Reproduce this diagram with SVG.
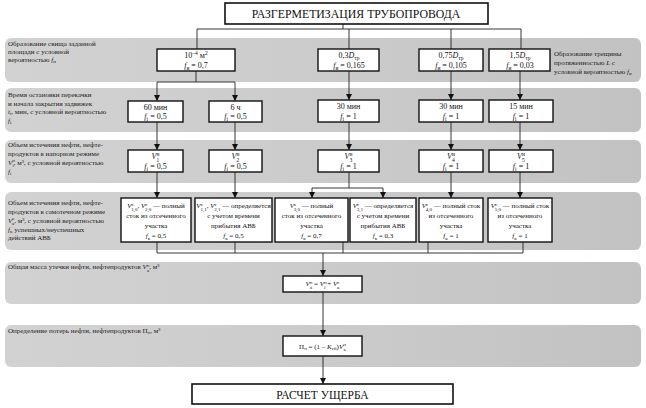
<svg xmlns="http://www.w3.org/2000/svg" width="646" height="408" viewBox="0 0 646 408">
<defs>
<marker id="arr" viewBox="0 0 6 6" refX="6" refY="3" markerWidth="6" markerHeight="6" orient="auto" markerUnits="userSpaceOnUse">
<path d="M0,0 L6,3 L0,6 z" fill="#111"/>
</marker>
<linearGradient id="bandg" x1="0" y1="0" x2="1" y2="0">
<stop offset="0" stop-color="#d2d2d2"/>
<stop offset="0.5" stop-color="#cbcbcb"/>
<stop offset="1" stop-color="#c2c2c2"/>
</linearGradient>
</defs>
<style>
.band{fill:url(#bandg);}
.box{fill:#fff;stroke:#111;stroke-width:1.4;}
.big{fill:#fff;stroke:#111;stroke-width:1.6;}
.t{font-family:"Liberation Serif",serif;font-size:8px;fill:#111;text-anchor:middle;}
.t7{font-family:"Liberation Serif",serif;font-size:7px;fill:#111;text-anchor:middle;}
.lbl{font-family:"Liberation Serif",serif;font-size:7px;fill:#222;}
.ttl{font-family:"Liberation Serif",serif;font-size:11.8px;fill:#111;text-anchor:middle;}
.ttl2{font-family:"Liberation Serif",serif;font-size:11.5px;fill:#111;text-anchor:middle;}
.i{font-style:italic;}
.s{font-size:5.5px;}
.s5{font-size:5px;}
.c{fill:none;stroke:#222;stroke-width:0.9;}
.a{fill:none;stroke:#222;stroke-width:0.9;marker-end:url(#arr);}
</style>
<rect width="646" height="408" fill="#fff"/>

<g id="bands">
<rect class="band" x="5" y="38" width="636" height="44" rx="6"/>
<rect class="band" x="5" y="88" width="636" height="44" rx="6"/>
<rect class="band" x="5" y="140" width="636" height="43" rx="6"/>
<rect class="band" x="5" y="192" width="636" height="58" rx="6"/>
<rect class="band" x="5" y="262" width="636" height="42" rx="6"/>
<rect class="band" x="5" y="325" width="636" height="42" rx="6"/>
</g>

<g id="labels">
<text class="lbl" x="8" y="46">Образование свища заданной</text>
<text class="lbl" x="8" y="54">площади с условной</text>
<text class="lbl" x="8" y="62">вероятностью <tspan class="i">f</tspan><tspan class="s5" dy="1">и</tspan></text>
<text class="lbl" x="554" y="56">Образование трещины</text>
<text class="lbl" x="554" y="65">протяженностью <tspan class="i">L</tspan> с</text>
<text class="lbl" x="554" y="74">условной вероятностью <tspan class="i">f</tspan><tspan class="s5" dy="1">и</tspan></text>

<text class="lbl" x="8" y="97">Время остановки перекачки</text>
<text class="lbl" x="8" y="105.5">и начала закрытия задвижек</text>
<text class="lbl" x="8" y="114"><tspan class="i">t</tspan><tspan class="s5" dy="1">i</tspan><tspan dy="-1">, мин, с условной вероятностью</tspan></text>
<text class="lbl" x="8" y="122.5"><tspan class="i">f</tspan><tspan class="s5" dy="1">i</tspan></text>

<text class="lbl" x="8" y="147">Объем истечения нефти, нефте-</text>
<text class="lbl" x="8" y="155.5">продуктов в напорном режиме</text>
<text class="lbl" x="8" y="164.5"><tspan class="i">V</tspan><tspan class="s5" dy="-2.5">н</tspan><tspan class="s5" dx="-2.5" dy="5">i</tspan><tspan dy="-2.5">, м³, с условной вероятностью</tspan></text>
<text class="lbl" x="8" y="173.5"><tspan class="i">f</tspan><tspan class="s5" dy="1">i</tspan></text>

<text class="lbl" x="8" y="205">Объем истечения нефти, нефте-</text>
<text class="lbl" x="8" y="213.5">продуктов в самотечном режиме</text>
<text class="lbl" x="8" y="222.5"><tspan class="i">V</tspan><tspan class="s5" dy="-2.5">с</tspan><tspan class="s5" dx="-2.5" dy="5">а</tspan><tspan dy="-2.5">, м³, с условной вероятностью</tspan></text>
<text class="lbl" x="8" y="231.5"><tspan class="i">f</tspan><tspan class="s5" dy="1">к</tspan><tspan dy="-1"> успешных/неуспешных</tspan></text>
<text class="lbl" x="8" y="239.5">действий АВБ</text>

<text class="lbl" x="8" y="269">Общая масса утечки нефти, нефтепродуктов <tspan class="i">V</tspan><tspan class="s5" dy="-2.5">н</tspan><tspan class="s5" dx="-2.5" dy="5">а</tspan><tspan dy="-2.5">, м³</tspan></text>
<text class="lbl" x="8" y="333">Определение потерь нефти, нефтепродуктов П<tspan class="s5" dy="1">н</tspan><tspan dy="-1">, м³</tspan></text>
</g>

<g id="connectors">
<path class="c" d="M343 24 V29 M197 29 H521 M197 29 V49 M349 29 V49 M451 29 V49 M521 29 V49"/>
<path class="c" d="M196 71 V82 M157 82 H235"/>
<path class="a" d="M157 82 V101"/>
<path class="a" d="M235 82 V101"/>
<path class="a" d="M349 71 V100"/>
<path class="a" d="M451 71 V100"/>
<path class="a" d="M520 71 V100"/>
<path class="a" d="M157 122 V150"/>
<path class="a" d="M235 122 V150"/>
<path class="a" d="M349 122 V150"/>
<path class="a" d="M451 122 V150"/>
<path class="a" d="M520 122 V150"/>
<path class="a" d="M157 172 V198"/>
<path class="a" d="M235 172 V198"/>
<path class="c" d="M349 172 V188 M312 188 H383"/>
<path class="a" d="M312 188 V198"/>
<path class="a" d="M383 188 V198"/>
<path class="a" d="M451 172 V198"/>
<path class="a" d="M520 172 V198"/>
<path class="c" d="M157 242 V253 M235 242 V253 M343 242 V253 M428 242 V253 M523 242 V253 M157 253 H523"/>
<path class="a" d="M323 253 V276"/>
<path class="a" d="M323 292 V336"/>
<path class="a" d="M323 356 V384"/>
</g>

<g id="title">
<rect class="big" x="225" y="3" width="263" height="21"/>
<text class="ttl" x="356" y="18">РАЗГЕРМЕТИЗАЦИЯ ТРУБОПРОВОДА</text>
</g>

<g id="r1b1">
<rect class="box" x="157" y="49" width="78" height="22"/>
<text class="t" x="196" y="58">10<tspan class="s" dy="-3">–4</tspan><tspan dy="3"> м</tspan><tspan class="s" dy="-3">2</tspan></text>
<text class="t" x="196" y="68"><tspan class="i">f</tspan><tspan class="s" dy="1.5">и</tspan><tspan dy="-1.5"> = 0,7</tspan></text>
</g>
<g id="r1b2">
<rect class="box" x="318" y="49" width="61" height="22"/>
<text class="t" x="349" y="58">0,3<tspan class="i">D</tspan><tspan class="s" dy="1.5">тр</tspan></text>
<text class="t" x="349" y="68"><tspan class="i">f</tspan><tspan class="s" dy="1.5">и</tspan><tspan dy="-1.5"> = 0,165</tspan></text>
</g>
<g id="r1b3">
<rect class="box" x="419" y="49" width="64" height="22"/>
<text class="t" x="451" y="58">0,75<tspan class="i">D</tspan><tspan class="s" dy="1.5">тр</tspan></text>
<text class="t" x="451" y="68"><tspan class="i">f</tspan><tspan class="s" dy="1.5">и</tspan><tspan dy="-1.5"> = 0,105</tspan></text>
</g>
<g id="r1b4">
<rect class="box" x="489" y="49" width="61" height="22"/>
<text class="t" x="520" y="58">1,5<tspan class="i">D</tspan><tspan class="s" dy="1.5">тр</tspan></text>
<text class="t" x="520" y="68"><tspan class="i">f</tspan><tspan class="s" dy="1.5">и</tspan><tspan dy="-1.5"> = 0,03</tspan></text>
</g>

<g id="r2b1">
<rect class="box" x="128" y="101" width="55" height="21"/>
<text class="t" x="155.5" y="109.5">60 мин</text>
<text class="t" x="155.5" y="119"><tspan class="i">f</tspan><tspan class="s" dy="1.5">i</tspan><tspan dy="-1.5"> = 0,5</tspan></text>
</g>
<g id="r2b2">
<rect class="box" x="209" y="101" width="53" height="21"/>
<text class="t" x="235.5" y="109.5">6 ч</text>
<text class="t" x="235.5" y="119"><tspan class="i">f</tspan><tspan class="s" dy="1.5">i</tspan><tspan dy="-1.5"> = 0,5</tspan></text>
</g>
<g id="r2b3">
<rect class="box" x="318" y="100" width="61" height="22"/>
<text class="t" x="348.5" y="109">30 мин</text>
<text class="t" x="348.5" y="119"><tspan class="i">f</tspan><tspan class="s" dy="1.5">i</tspan><tspan dy="-1.5"> = 1</tspan></text>
</g>
<g id="r2b4">
<rect class="box" x="419" y="100" width="64" height="22"/>
<text class="t" x="451" y="109">30 мин</text>
<text class="t" x="451" y="119"><tspan class="i">f</tspan><tspan class="s" dy="1.5">i</tspan><tspan dy="-1.5"> = 1</tspan></text>
</g>
<g id="r2b5">
<rect class="box" x="489" y="100" width="64" height="22"/>
<text class="t" x="521" y="109">15 мин</text>
<text class="t" x="521" y="119"><tspan class="i">f</tspan><tspan class="s" dy="1.5">i</tspan><tspan dy="-1.5"> = 1</tspan></text>
</g>

<g id="r3b1">
<rect class="box" x="128" y="150" width="55" height="22"/>
<text class="t" x="155.5" y="159"><tspan class="i">V</tspan><tspan class="s" dy="-3">н</tspan><tspan class="s" dx="-3" dy="5.5">1</tspan></text>
<text class="t" x="155.5" y="169"><tspan class="i">f</tspan><tspan class="s" dy="1.5">i</tspan><tspan dy="-1.5"> = 0,5</tspan></text>
</g>
<g id="r3b2">
<rect class="box" x="209" y="150" width="53" height="22"/>
<text class="t" x="235.5" y="159"><tspan class="i">V</tspan><tspan class="s" dy="-3">н</tspan><tspan class="s" dx="-3" dy="5.5">2</tspan></text>
<text class="t" x="235.5" y="169"><tspan class="i">f</tspan><tspan class="s" dy="1.5">i</tspan><tspan dy="-1.5"> = 0,5</tspan></text>
</g>
<g id="r3b3">
<rect class="box" x="318" y="150" width="61" height="22"/>
<text class="t" x="348.5" y="159"><tspan class="i">V</tspan><tspan class="s" dy="-3">н</tspan><tspan class="s" dx="-3" dy="5.5">3</tspan></text>
<text class="t" x="348.5" y="169"><tspan class="i">f</tspan><tspan class="s" dy="1.5">i</tspan><tspan dy="-1.5"> = 1</tspan></text>
</g>
<g id="r3b4">
<rect class="box" x="419" y="150" width="64" height="22"/>
<text class="t" x="451" y="159"><tspan class="i">V</tspan><tspan class="s" dy="-3">н</tspan><tspan class="s" dx="-3" dy="5.5">4</tspan></text>
<text class="t" x="451" y="169"><tspan class="i">f</tspan><tspan class="s" dy="1.5">i</tspan><tspan dy="-1.5"> = 1</tspan></text>
</g>
<g id="r3b5">
<rect class="box" x="489" y="150" width="64" height="22"/>
<text class="t" x="521" y="159"><tspan class="i">V</tspan><tspan class="s" dy="-3">н</tspan><tspan class="s" dx="-3" dy="5.5">5</tspan></text>
<text class="t" x="521" y="169"><tspan class="i">f</tspan><tspan class="s" dy="1.5">i</tspan><tspan dy="-1.5"> = 1</tspan></text>
</g>

<g id="r4b1">
<rect class="box" x="121" y="198" width="70" height="44"/>
<text class="t7" x="156" y="208"><tspan class="i">V</tspan><tspan class="s5" dy="-2.5">с</tspan><tspan class="s5" dx="-2.5" dy="5">1,0</tspan><tspan dy="-2.5">, </tspan><tspan class="i">V</tspan><tspan class="s5" dy="-2.5">с</tspan><tspan class="s5" dx="-2.5" dy="5">2,0</tspan><tspan dy="-2.5"> — полный</tspan></text>
<text class="t7" x="156" y="218">сток из отсеченного</text>
<text class="t7" x="156" y="228">участка</text>
<text class="t7" x="156" y="238"><tspan class="i">f</tspan><tspan class="s5" dy="1.5">к</tspan><tspan dy="-1.5"> = 0,5</tspan></text>
</g>
<g id="r4b2">
<rect class="box" x="195" y="198" width="77" height="44"/>
<text class="t7" x="233.5" y="208"><tspan class="i">V</tspan><tspan class="s5" dy="-2.5">с</tspan><tspan class="s5" dx="-2.5" dy="5">1,1</tspan><tspan dy="-2.5">, </tspan><tspan class="i">V</tspan><tspan class="s5" dy="-2.5">с</tspan><tspan class="s5" dx="-2.5" dy="5">2,1</tspan><tspan dy="-2.5"> — определяется</tspan></text>
<text class="t7" x="233.5" y="218">с учетом времени</text>
<text class="t7" x="233.5" y="228">прибытия АВБ</text>
<text class="t7" x="233.5" y="238"><tspan class="i">f</tspan><tspan class="s5" dy="1.5">к</tspan><tspan dy="-1.5"> = 0,5</tspan></text>
</g>
<g id="r4b3">
<rect class="box" x="275" y="198" width="73" height="44"/>
<text class="t7" x="311.5" y="208"><tspan class="i">V</tspan><tspan class="s5" dy="-2.5">с</tspan><tspan class="s5" dx="-2.5" dy="5">3,0</tspan><tspan dy="-2.5"> — полный</tspan></text>
<text class="t7" x="311.5" y="218">сток из отсеченного</text>
<text class="t7" x="311.5" y="228">участка</text>
<text class="t7" x="311.5" y="238"><tspan class="i">f</tspan><tspan class="s5" dy="1.5">к</tspan><tspan dy="-1.5"> = 0,7</tspan></text>
</g>
<g id="r4b4">
<rect class="box" x="350" y="198" width="66" height="44"/>
<text class="t7" x="383" y="208"><tspan class="i">V</tspan><tspan class="s5" dy="-2.5">с</tspan><tspan class="s5" dx="-2.5" dy="5">3,1</tspan><tspan dy="-2.5"> — определяется</tspan></text>
<text class="t7" x="383" y="218">с учетом времени</text>
<text class="t7" x="383" y="228">прибытия АВБ</text>
<text class="t7" x="383" y="238"><tspan class="i">f</tspan><tspan class="s5" dy="1.5">к</tspan><tspan dy="-1.5"> = 0,3</tspan></text>
</g>
<g id="r4b5">
<rect class="box" x="419" y="198" width="64" height="44"/>
<text class="t7" x="451" y="208"><tspan class="i">V</tspan><tspan class="s5" dy="-2.5">с</tspan><tspan class="s5" dx="-2.5" dy="5">4,0</tspan><tspan dy="-2.5"> — полный сток</tspan></text>
<text class="t7" x="451" y="218">из отсеченного</text>
<text class="t7" x="451" y="228">участка</text>
<text class="t7" x="451" y="238"><tspan class="i">f</tspan><tspan class="s5" dy="1.5">к</tspan><tspan dy="-1.5"> = 1</tspan></text>
</g>
<g id="r4b6">
<rect class="box" x="488" y="198" width="64" height="44"/>
<text class="t7" x="520" y="208"><tspan class="i">V</tspan><tspan class="s5" dy="-2.5">с</tspan><tspan class="s5" dx="-2.5" dy="5">5,0</tspan><tspan dy="-2.5"> — полный сток</tspan></text>
<text class="t7" x="520" y="218">из отсеченного</text>
<text class="t7" x="520" y="228">участка</text>
<text class="t7" x="520" y="238"><tspan class="i">f</tspan><tspan class="s5" dy="1.5">к</tspan><tspan dy="-1.5"> = 1</tspan></text>
</g>

<g id="r5">
<rect class="box" x="283" y="276" width="79" height="16"/>
<text class="t7" x="322.5" y="286"><tspan class="i">V</tspan><tspan class="s5" dy="-2.5">н</tspan><tspan class="s5" dx="-2.5" dy="5">а</tspan><tspan dy="-2.5"> = </tspan><tspan class="i">V</tspan><tspan class="s5" dy="-2.5">н</tspan><tspan class="s5" dx="-2.5" dy="5">i</tspan><tspan dy="-2.5"> + </tspan><tspan class="i">V</tspan><tspan class="s5" dy="-2.5">с</tspan><tspan class="s5" dx="-2.5" dy="5">а</tspan></text>
</g>
<g id="r6">
<rect class="box" x="283" y="336" width="79" height="20"/>
<text class="t7" x="322.5" y="348.5">П<tspan class="s5" dy="1.5">н</tspan><tspan dy="-1.5"> = (1 – </tspan><tspan class="i">K</tspan><tspan class="s5" dy="1.5">сб</tspan><tspan dy="-1.5">)</tspan><tspan class="i">V</tspan><tspan class="s5" dy="-2.5">н</tspan><tspan class="s5" dx="-2.5" dy="5">а</tspan></text>
</g>
<g id="final">
<rect class="big" x="192" y="384" width="261" height="20"/>
<text class="ttl2" x="322.5" y="398.5">РАСЧЕТ УЩЕРБА</text>
</g>
</svg>
